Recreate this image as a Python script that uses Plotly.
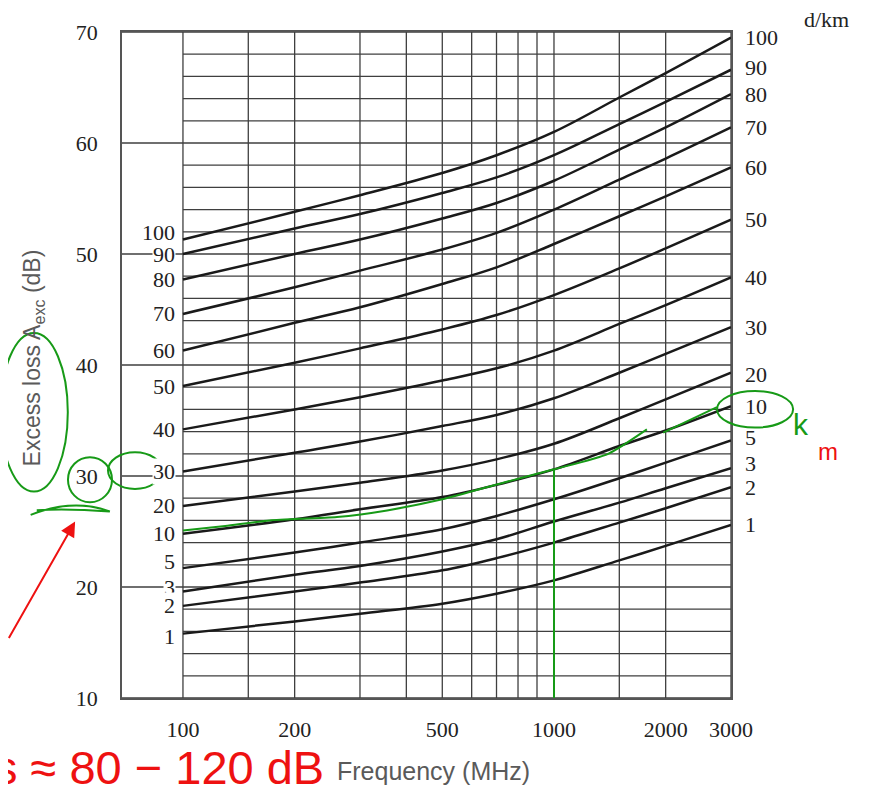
import numpy as np
import plotly.graph_objects as go

# ---------------- data ----------------
freq_mhz = [100, 200, 300, 500, 700, 1000, 1500, 2000, 3000]
distances_km = [100, 90, 80, 70, 60, 50, 40, 30, 20, 10, 5, 3, 2, 1]

loss_d100 = [51.3, 53.8, 55.3, 57.3, 58.9, 61.0, 64.1, 66.3, 69.5]
loss_d90 = [50.0, 52.3, 53.6, 55.5, 56.9, 58.9, 61.7, 63.7, 66.6]
loss_d80 = [47.7, 50.0, 51.3, 53.2, 54.6, 56.6, 59.4, 61.4, 64.4]
loss_d70 = [44.6, 47.0, 48.5, 50.4, 51.9, 54.0, 56.7, 58.6, 61.4]
loss_d60 = [41.3, 43.8, 45.2, 47.3, 48.8, 50.9, 53.4, 55.2, 57.8]
loss_d50 = [38.1, 40.2, 41.5, 43.2, 44.5, 46.3, 48.7, 50.5, 53.1]
loss_d40 = [34.2, 36.0, 37.1, 38.6, 39.7, 41.3, 43.7, 45.4, 47.9]
loss_d30 = [30.4, 32.1, 33.1, 34.5, 35.5, 37.0, 39.3, 41.0, 43.4]
loss_d20 = [27.3, 28.6, 29.4, 30.5, 31.5, 32.9, 35.2, 36.9, 39.3]
loss_d10 = [24.8, 26.1, 27.0, 28.1, 29.2, 30.6, 32.7, 34.1, 36.3]
loss_d5 = [21.7, 23.1, 24.0, 25.2, 26.4, 27.9, 29.8, 31.2, 33.2]
loss_d3 = [19.6, 21.1, 21.9, 23.2, 24.3, 25.9, 27.6, 28.9, 30.7]
loss_d2 = [18.3, 19.6, 20.4, 21.5, 22.6, 24.0, 25.8, 27.1, 29.0]
loss_d1 = [15.8, 16.9, 17.6, 18.5, 19.4, 20.6, 22.4, 23.7, 25.6]

x_tick_vals = [100, 200, 500, 1000, 2000, 3000]
y_tick_vals = [10, 20, 30, 40, 50, 60, 70]

grid_freq_mhz = [100, 150, 200, 300, 400, 500, 600, 700, 800, 900, 1000, 1500, 2000, 3000]
grid_major_db = [10, 20, 30, 40, 50, 60, 70]
grid_minor_db = [v for v in range(12, 70, 2) if v % 10 != 0]

# hand-drawn green trace over the 10 km curve (annotation on the scan)
green_freq = [100, 130, 171, 260, 355, 500, 730, 1000, 1400, 1780, None, 1970, 2750]
green_db = [25.1, 25.5, 26.0, 26.3, 26.9, 27.9, 29.4, 30.6, 32.0, 34.2, None, 33.9, 36.2]
green_drop_freq = [1000, 1000]
green_drop_db = [30.6, 8.8]

curves = [loss_d100, loss_d90, loss_d80, loss_d70, loss_d60, loss_d50, loss_d40,
          loss_d30, loss_d20, loss_d10, loss_d5, loss_d3, loss_d2, loss_d1]

# ---------------- styling ----------------
X_MIN = 68.5
GRID = "#3f3f3f"
CURVE = "#1a1a1a"
SERIF = "Liberation Serif"
SANS = "Liberation Sans"
GREEN = "#179a17"
RED = "#ee1111"
TXT = "#222222"
left_label_yshift = {100: 7, 5: 7, 3: 4, 1: -3}
right_label_yshift = {90: 2, 5: 3, 3: 5, 20: -2}

fig = go.Figure()

# vertical grid
vx, vy = [], []
for f in grid_freq_mhz:
    vx += [f, f, None]
    vy += [10, 70, None]
fig.add_trace(go.Scatter(x=vx, y=vy, mode="lines", line=dict(color=GRID, width=1.3),
                         hoverinfo="skip", showlegend=False))
# horizontal grid: major across full width, minor only from 100 MHz
hx, hy = [], []
for v in grid_major_db:
    hx += [X_MIN, 3000, None]
    hy += [v, v, None]
for v in grid_minor_db:
    hx += [100, 3000, None]
    hy += [v, v, None]
fig.add_trace(go.Scatter(x=hx, y=hy, mode="lines", line=dict(color=GRID, width=1.3),
                         hoverinfo="skip", showlegend=False))

# curves
for d, vals in zip(distances_km, curves):
    fig.add_trace(go.Scatter(x=freq_mhz, y=vals, mode="lines", name=f"{d} km",
                             line=dict(color=CURVE, width=2.5, shape="spline", smoothing=1.0),
                             showlegend=False))

# hand annotations
fig.add_trace(go.Scatter(x=green_freq, y=green_db, mode="lines",
                         line=dict(color=GREEN, width=2, shape="spline", smoothing=0.6),
                         showlegend=False, hoverinfo="skip"))
fig.add_trace(go.Scatter(x=green_drop_freq, y=green_drop_db, mode="lines",
                         line=dict(color=GREEN, width=2), showlegend=False,
                         hoverinfo="skip", cliponaxis=False))

annotations = []
for d, vals in zip(distances_km, curves):
    annotations.append(dict(x=np.log10(freq_mhz[0]), y=vals[0], xref="x", yref="y",
                            text=str(d), showarrow=False, xanchor="right", yanchor="middle",
                            xshift=-7, yshift=left_label_yshift.get(d, 0),
                            font=dict(family=SERIF, size=22, color=TXT),
                            bgcolor="white", borderpad=0))
    annotations.append(dict(x=np.log10(freq_mhz[-1]), y=vals[-1], xref="x", yref="y",
                            text=str(d), showarrow=False, xanchor="left", yanchor="middle",
                            xshift=12, yshift=right_label_yshift.get(d, 0),
                            font=dict(family=SERIF, size=22, color=TXT)))

annotations += [
    dict(x=1.116, y=1.019, xref="paper", yref="paper", text="d/km", showarrow=False,
         xanchor="left", yanchor="middle",
         font=dict(family=SERIF, size=22, color=TXT)),
    dict(x=-0.146, y=0.51, xref="paper", yref="paper",
         text="Excess loss A<sub>exc</sub> (dB)", showarrow=False, textangle=-90,
         xanchor="center", yanchor="middle",
         font=dict(family=SANS, size=23, color="#5a5a5a")),
    dict(x=0.512, y=-0.110, xref="paper", yref="paper", text="Frequency (MHz)",
         showarrow=False, xanchor="center", yanchor="middle",
         font=dict(family=SANS, size=25, color="#5a5a5a")),
    # red hand annotations
    dict(x=-0.077, y=0.265, xref="paper", yref="paper", text="", showarrow=True,
         arrowhead=2, arrowsize=1.5, arrowwidth=2, arrowcolor=RED, ax=-72, ay=118),
    dict(x=-0.213, y=-0.104, xref="paper", yref="paper", text="s ≈ 80 − 120 dB",
         showarrow=False, xanchor="left", yanchor="middle",
         font=dict(family=SANS, size=47, color=RED)),
    dict(x=1.115, y=0.41, xref="paper", yref="paper", text="k", showarrow=False,
         xanchor="center", yanchor="middle",
         font=dict(family=SANS, size=30, color=GREEN)),
    dict(x=1.16, y=0.37, xref="paper", yref="paper", text="m", showarrow=False,
         xanchor="center", yanchor="middle",
         font=dict(family=SANS, size=24, color=RED)),
]

shapes = [
    dict(type="circle", xref="paper", yref="paper", x0=-0.200, x1=-0.089, y0=0.310, y1=0.548,
         line=dict(color=GREEN, width=2)),
    dict(type="circle", xref="paper", yref="paper", x0=-0.0887, x1=-0.0164, y0=0.294, y1=0.3616,
         line=dict(color=GREEN, width=2)),
    dict(type="circle", xref="paper", yref="paper", x0=-0.023, x1=0.0657, y0=0.314, y1=0.369,
         line=dict(color=GREEN, width=2)),
    dict(type="circle", xref="paper", yref="paper", x0=0.977, x1=1.102, y0=0.406, y1=0.461,
         line=dict(color=GREEN, width=2)),
    dict(type="path", xref="paper", yref="paper",
         path="M -0.150,0.275 Q -0.08,0.300 -0.020,0.280 Q -0.09,0.285 -0.140,0.282",
         line=dict(color=GREEN, width=2)),
]

# the page body has an 8px default margin, so the figure is shifted by 8px
fig.update_layout(
    width=861, height=781,
    margin=dict(l=114, r=138, t=18, b=91),
    paper_bgcolor="white", plot_bgcolor="white",
    showlegend=False,
    annotations=annotations,
    shapes=shapes,
    xaxis=dict(type="log", range=[np.log10(X_MIN), np.log10(3000)],
               tickvals=x_tick_vals, ticktext=[str(v) for v in x_tick_vals],
               showgrid=False, zeroline=False, ticks="", ticklabelstandoff=11,
               showline=True, mirror=True, linecolor="#555555", linewidth=1.5,
               tickfont=dict(family=SERIF, size=22, color=TXT)),
    yaxis=dict(range=[10, 70], tickvals=y_tick_vals, showgrid=False, zeroline=False,
               ticks="", ticklabelstandoff=18,
               showline=True, mirror=True, linecolor="#555555", linewidth=1.5,
               tickfont=dict(family=SERIF, size=22, color=TXT)),
)

fig.write_html("out.html")
